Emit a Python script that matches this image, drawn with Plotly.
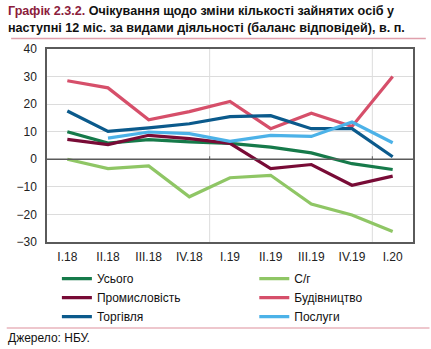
import plotly.graph_objects as go

# Quarter labels
quarters = ["I.18", "II.18", "III.18", "IV.18", "I.19", "II.19", "III.19", "IV.19", "I.20"]

# Balance of responses by activity, p.p.
total = [10.0, 5.9, 7.1, 6.3, 5.8, 4.4, 2.3, -1.6, -3.7]
agri = [0.0, -3.4, -2.4, -13.6, -6.7, -5.8, -16.2, -20.2, -26.2]
industry = [7.2, 5.3, 8.7, 7.5, 5.8, -3.4, -1.9, -9.4, -6.1]
construction = [28.5, 25.9, 14.3, 17.3, 21.0, 11.1, 16.7, 11.9, 30.0]
trade = [17.5, 10.1, 11.4, 12.9, 15.5, 15.8, 11.1, 11.1, 0.9]
services = [None, 7.7, 9.9, 9.3, 6.5, 8.7, 8.3, 13.5, 6.0]

# (name, values, colour, legend column)
series = [
    ("Усього", total, "#167a4a", "legend"),
    ("С/г", agri, "#8fc665", "legend2"),
    ("Промисловість", industry, "#780b36", "legend"),
    ("Будівництво", construction, "#d64f6a", "legend2"),
    ("Торгівля", trade, "#0b5a8c", "legend"),
    ("Послуги", services, "#4cb2e8", "legend2"),
]

FONT = "Liberation Sans, Arial, sans-serif"
AXIS_COLOR = "#5a5a5a"
GRID_COLOR = "#dcdcdc"
ACCENT = "#8c1c3c"

x_idx = list(range(len(quarters)))

fig = go.Figure()
for name, vals, color, leg in series:
    fig.add_trace(go.Scatter(
        x=x_idx, y=vals, name=name, mode="lines",
        line=dict(color=color, width=3.2),
        connectgaps=False, legend=leg,
    ))

# year separators
shapes = []
for xv in (3.5, 7.5):
    shapes.append(dict(type="line", xref="x", yref="paper", x0=xv, x1=xv, y0=0, y1=1,
                       line=dict(color=GRID_COLOR, width=1), layer="below"))
    shapes.append(dict(type="line", xref="x", yref="y", x0=xv, x1=xv, y0=0, y1=1.1,
                       line=dict(color=AXIS_COLOR, width=1)))
# zero line
shapes.append(dict(type="line", xref="paper", yref="y", x0=0, x1=1, y0=0, y1=0,
                   line=dict(color=AXIS_COLOR, width=1.5)))
# title underline and footer rule
shapes.append(dict(type="line", xref="paper", yref="paper", x0=-0.098, x1=1.035,
                   y0=1.054, y1=1.054, line=dict(color="#e0a0ac", width=1.5)))
shapes.append(dict(type="line", xref="paper", yref="paper", x0=-0.11, x1=1.045,
                   y0=-0.445, y1=-0.445, line=dict(color="#e8b4bd", width=1.5)))

annotations = [
    dict(xref="paper", yref="paper", x=-0.113, y=1.197, xanchor="left", yanchor="middle",
         showarrow=False, align="left",
         text=f"<b><span style='color:{ACCENT}'>Графік 2.3.2.</span> Очікування щодо зміни кількості зайнятих осіб у</b>",
         font=dict(family=FONT, size=12.6, color="#111111")),
    dict(xref="paper", yref="paper", x=-0.113, y=1.109, xanchor="left", yanchor="middle",
         showarrow=False, align="left",
         text="<b>наступні 12 міс. за видами діяльності (баланс відповідей), в. п.</b>",
         font=dict(family=FONT, size=12.6, color="#111111")),
    dict(xref="paper", yref="paper", x=-0.113, y=-0.497, xanchor="left", yanchor="middle",
         showarrow=False, text="Джерело: НБУ.",
         font=dict(family=FONT, size=12, color="#111111")),
]

legend_style = dict(
    orientation="v", xref="container", yref="container",
    y=0.243, xanchor="left", yanchor="top",
    font=dict(family=FONT, size=12, color="#111111"),
    itemwidth=30, bgcolor="rgba(0,0,0,0)", tracegroupgap=0,
)

fig.update_layout(
    width=431, height=349,
    margin=dict(l=47, r=18, t=49, b=107, autoexpand=False),
    paper_bgcolor="white", plot_bgcolor="white",
    font=dict(family=FONT, size=12, color="#222222"),
    showlegend=True,
    legend=dict(x=0.132, **legend_style),
    legend2=dict(x=0.59, **legend_style),
    xaxis=dict(
        range=[-0.5, 8.5], tickmode="array", tickvals=x_idx, ticktext=quarters,
        showgrid=False, zeroline=False, showline=True, mirror=True,
        linecolor=AXIS_COLOR, linewidth=1.5, ticks="", ticklabelstandoff=3,
        tickfont=dict(family=FONT, size=12, color="#222222"),
    ),
    yaxis=dict(
        range=[-30, 40], tickmode="array", tickvals=list(range(-30, 41, 10)),
        showgrid=True, gridcolor=GRID_COLOR, gridwidth=1, zeroline=False,
        showline=True, mirror=True, linecolor=AXIS_COLOR, linewidth=1.5,
        ticks="", ticklabelstandoff=6,
        tickfont=dict(family=FONT, size=12, color="#222222"),
    ),
    shapes=shapes,
    annotations=annotations,
)

fig.write_html("out.html")
